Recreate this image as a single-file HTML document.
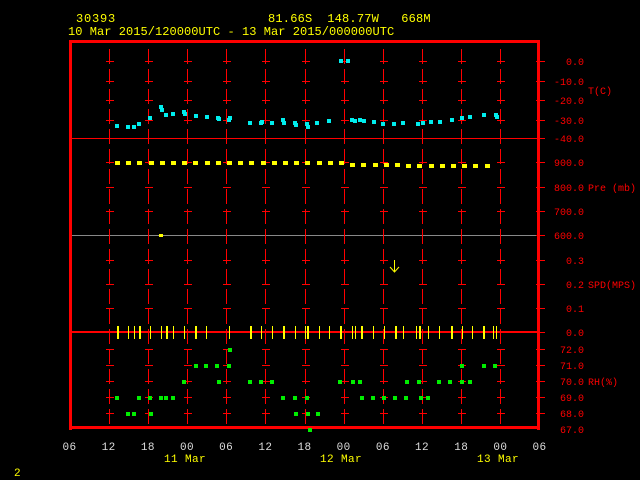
<!DOCTYPE html>
<html><head><meta charset="utf-8"><style>
html,body{margin:0;padding:0;background:#000;}
svg{display:block;shape-rendering:crispEdges}
text{font-family:"Liberation Mono",monospace;font-size:10px;white-space:pre}
.hd{font-size:12px;letter-spacing:0.8px}
.dt{font-size:11px;letter-spacing:0.4px}
</style></head><body>
<svg id="s" width="640" height="480" xmlns="http://www.w3.org/2000/svg" xml:space="preserve">
<rect width="640" height="480" fill="#000"/>
<g fill="#ff0" class="hd">
<text x="76" y="22" class="hd">30393</text>
<text x="268" y="22" class="hd" style="letter-spacing:0.2px">81.66S  148.77W   668M</text>
<text x="68" y="35" class="hd" style="letter-spacing:0.05px">10 Mar 2015/120000UTC - 13 Mar 2015/000000UTC</text>
<text x="14" y="476" class="dt">2</text>
<text x="185" y="462" text-anchor="middle" class="dt">11 Mar</text>
<text x="341" y="462" text-anchor="middle" class="dt">12 Mar</text>
<text x="498" y="462" text-anchor="middle" class="dt">13 Mar</text>
</g>
<g id="g"></g>
</svg>
<script>
var g=document.getElementById('g'),h='';
function R(x,y,w,hh,c){h+='<rect x="'+x+'" y="'+y+'" width="'+w+'" height="'+hh+'" fill="'+c+'"/>';}
function T(x,y,s,c,a,cl){h+='<text x="'+x+'" y="'+y+'" fill="'+c+'"'+(a?' text-anchor="'+a+'"':'')+(cl?' class="'+cl+'"':'')+'>'+s+'</text>';}
var X0=69.5,dx=39.17;
var ticks=[61,81,100,120,162,187,211,260,284,308,349,365,381,397,413];
R(70,138,469,1,'#f00');R(70,235,469,1,'#888');R(70,331,469,2,'#f00');
for(var i=1;i<12;i++){var x=Math.round(X0+i*dx);
 for(var y=49;y<428;y+=20)R(x,y,1,Math.min(15,428-y),'#f00');
 ticks.forEach(function(y){R(x-3,y,8,1,'#f00')});
}
ticks.concat([138,235,332]).forEach(function(y){R(536,y,9,1,'#f00')});
R(69,40,3,390,'#f00');R(537,40,3,390,'#f00');R(69,40,471,3,'#f00');R(69,426,471,3,'#f00');
var xl=['06','12','18','00','06','12','18','00','06','12','18','00','06'];
for(var i=0;i<13;i++)T(X0+i*dx,450,xl[i],'#ddd','middle','dt');
var rl=[['0.0',65],['-10.0',85],['-20.0',104],['-30.0',124],['-40.0',142],['900.0',166],['800.0',191],['700.0',215],['600.0',239],['0.3',264],['0.2',288],['0.1',312],['0.0',336],['72.0',353],['71.0',369],['70.0',385],['69.0',401],['68.0',417],['67.0',433]];
rl.forEach(function(r){T(584,r[1],r[0],'#f00','end')});
T(588,94,'T(C)','#f00');T(588,191,'Pre (mb)','#f00');T(588,288,'SPD(MPS)','#f00');T(588,385,'RH(%)','#f00');
var cy=[[117,126],[128,127],[134,127],[139,124],[150,118],[161,107],[162,110],[166,115],[173,114],[184,112],[185,114],[196,116],[207,117],[218,118],[219,119],[229,120],[230,118],[250,123],[261,123],[262,122],[272,123],[283,120],[284,123],[295,123],[296,125],[307,124],[308,127],[317,123],[329,121],[341,61],[348,61],[352,120],[355,121],[360,120],[364,121],[374,122],[383,124],[394,124],[403,123],[418,124],[423,123],[431,122],[440,122],[452,120],[462,118],[470,117],[484,115],[496,115],[497,117]];
cy.forEach(function(p){R(p[0]-2,p[1]-2,4,4,'#0ee')});
for(var x=117;x<=497;x+=11.2){var y=x>350?163+(x-350)/150*1.5:161;R(Math.round(x)-2,Math.round(y),5,4,'#ff0');}
R(159,234,4,3,'#ff0');
[117,128,134,139,150,161,166,173,184,195,206,229,250,261,272,283,295,305,307,319,329,340,352,355,361,373,384,395,403,416,419,428,439,451,462,472,483,493,496].forEach(function(x,i){R(x,326,i%3?1:2,13,'#ff0')});
h+='<path d="M394.5 260 V271 M390 267 L394.5 272 L399 267" stroke="#ff0" fill="none" stroke-width="1" shape-rendering="auto"/>';
var gr=[[117,398],[128,414],[134,414],[139,398],[150,398],[151,414],[161,398],[166,398],[173,398],[184,382],[196,366],[206,366],[217,366],[219,382],[229,366],[230,350],[250,382],[261,382],[272,382],[283,398],[295,398],[296,414],[307,398],[308,414],[318,414],[310,430],[340,382],[353,382],[360,382],[362,398],[373,398],[384,398],[395,398],[407,382],[406,398],[419,382],[421,398],[428,398],[439,382],[450,382],[462,382],[462,366],[470,382],[484,366],[495,366]];
gr.forEach(function(p){R(p[0]-2,p[1]-2,4,4,'#0e0')});
g.innerHTML=h;
</script>
</body></html>
